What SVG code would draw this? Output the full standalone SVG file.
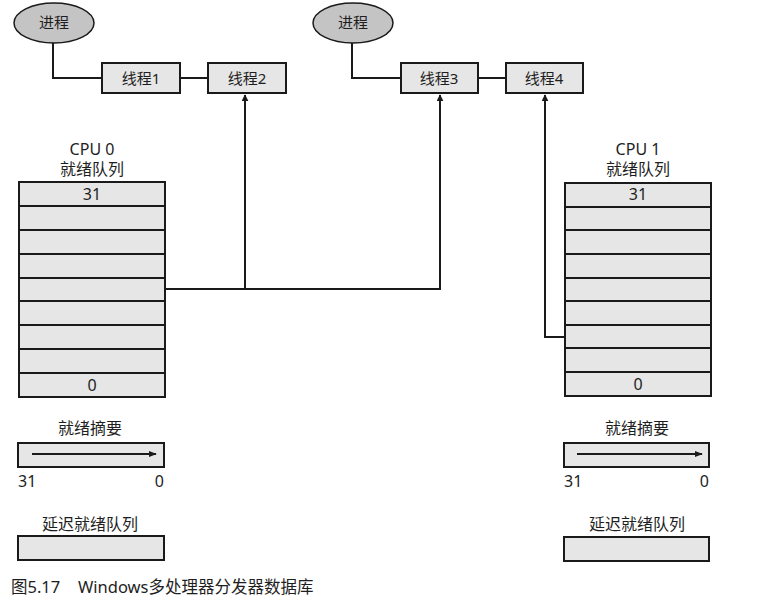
<svg xmlns="http://www.w3.org/2000/svg" width="784" height="599" viewBox="0 0 784 599">
<defs>
<style>
text{font-family:"Noto Sans","Noto Sans CJK SC",sans-serif;fill:#1e1e1e;font-size:16px}
.t{font-size:15px}
.c{text-anchor:middle}
.r{text-anchor:end}
.box{fill:#e6e6e6;stroke:#1a1a1a;stroke-width:2}
.ell{fill:#c4c4c4;stroke:#1a1a1a;stroke-width:1.5}
.ln{fill:none;stroke:#1a1a1a;stroke-width:2}
.row{stroke:#1a1a1a;stroke-width:2}
</style>
<marker id="ah" viewBox="0 0 10 10" refX="9" refY="5" markerWidth="7" markerHeight="7" markerUnits="userSpaceOnUse" orient="auto">
<path d="M0,0 L10,5 L0,10 z" fill="#1a1a1a"/>
</marker>
<marker id="ah2" viewBox="0 0 10 10" refX="9" refY="5" markerWidth="8" markerHeight="8" markerUnits="userSpaceOnUse" orient="auto">
<path d="M0,1 L10,5 L0,9 z" fill="#1a1a1a"/>
</marker>
</defs>
<rect width="784" height="599" fill="#ffffff"/>

<g id="connectors">
<polyline class="ln" points="53,43 53,78 102,78"/>
<line class="ln" x1="180" y1="78" x2="208" y2="78"/>
<polyline class="ln" points="352,43 352,78 401,78"/>
<line class="ln" x1="478" y1="78" x2="506" y2="78"/>
<polyline class="ln" points="165,289 440,289 440,95" marker-end="url(#ah)"/>
<line class="ln" x1="245" y1="289" x2="245" y2="95" marker-end="url(#ah)"/>
<polyline class="ln" points="565,337 545,337 545,95" marker-end="url(#ah)"/>
</g>

<g id="process1">
<ellipse class="ell" cx="54" cy="23" rx="40" ry="20"/>
<text class="c t" x="54" y="28">进程</text>
</g>
<g id="thread1">
<rect class="box" x="102" y="63" width="78" height="30"/>
<text class="c t" x="141" y="84">线程1</text>
</g>
<g id="thread2">
<rect class="box" x="208" y="63" width="78" height="30"/>
<text class="c t" x="247" y="84">线程2</text>
</g>
<g id="process2">
<ellipse class="ell" cx="353" cy="23" rx="40" ry="20"/>
<text class="c t" x="353" y="28">进程</text>
</g>
<g id="thread3">
<rect class="box" x="401" y="63" width="77" height="30"/>
<text class="c t" x="439" y="84">线程3</text>
</g>
<g id="thread4">
<rect class="box" x="506" y="63" width="77" height="30"/>
<text class="c t" x="544" y="84">线程4</text>
</g>

<g id="cpu0-queue">
<text class="c" x="92" y="155">CPU 0</text>
<text class="c" x="92" y="175">就绪队列</text>
<rect class="box" x="19" y="182" width="146" height="215"/>
<line class="row" x1="19" y1="206" x2="165" y2="206"/>
<line class="row" x1="19" y1="230" x2="165" y2="230"/>
<line class="row" x1="19" y1="254" x2="165" y2="254"/>
<line class="row" x1="19" y1="278" x2="165" y2="278"/>
<line class="row" x1="19" y1="301" x2="165" y2="301"/>
<line class="row" x1="19" y1="325" x2="165" y2="325"/>
<line class="row" x1="19" y1="349" x2="165" y2="349"/>
<line class="row" x1="19" y1="373" x2="165" y2="373"/>
<text class="c" x="92" y="200">31</text>
<text class="c" x="92" y="391">0</text>
</g>

<g id="cpu1-queue">
<text class="c" x="638" y="155">CPU 1</text>
<text class="c" x="638" y="175">就绪队列</text>
<rect class="box" x="565" y="183" width="146" height="213"/>
<line class="row" x1="565" y1="207" x2="711" y2="207"/>
<line class="row" x1="565" y1="230" x2="711" y2="230"/>
<line class="row" x1="565" y1="254" x2="711" y2="254"/>
<line class="row" x1="565" y1="278" x2="711" y2="278"/>
<line class="row" x1="565" y1="301" x2="711" y2="301"/>
<line class="row" x1="565" y1="325" x2="711" y2="325"/>
<line class="row" x1="565" y1="348" x2="711" y2="348"/>
<line class="row" x1="565" y1="372" x2="711" y2="372"/>
<text class="c" x="638" y="200">31</text>
<text class="c" x="638" y="390">0</text>
</g>

<g id="cpu0-summary">
<text class="c" x="90" y="434">就绪摘要</text>
<rect class="box" x="18" y="443" width="146" height="24"/>
<line class="ln" x1="32" y1="454" x2="156" y2="454" stroke-width="1.5" marker-end="url(#ah2)"/>
<text x="18" y="487">31</text>
<text class="r" x="164" y="487">0</text>
</g>
<g id="cpu0-deferred">
<text class="c" x="90" y="530">延迟就绪队列</text>
<rect class="box" x="18" y="536" width="146" height="24"/>
</g>

<g id="cpu1-summary">
<text class="c" x="637" y="434">就绪摘要</text>
<rect class="box" x="564" y="443" width="145" height="24"/>
<line class="ln" x1="577" y1="454" x2="702" y2="454" stroke-width="1.5" marker-end="url(#ah2)"/>
<text x="564" y="487">31</text>
<text class="r" x="709" y="487">0</text>
</g>
<g id="cpu1-deferred">
<text class="c" x="637" y="530">延迟就绪队列</text>
<rect class="box" x="564" y="537" width="145" height="24"/>
</g>

<text x="11" y="593" style="font-size:16.5px">图5.17<tspan x="78">Windows多处理器分发器数据库</tspan></text>
</svg>
